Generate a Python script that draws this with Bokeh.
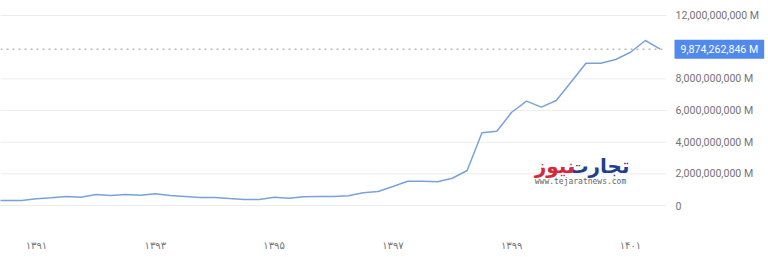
from bokeh.plotting import figure
from bokeh.models import FixedTicker, Label, Range1d
from bokeh.core.properties import value
from bokeh.embed import file_html
from bokeh.resources import INLINE

# quarterly periods (year/quarter) and values (in millions)
periods = ["1390/2", "1390/3", "1390/4",
           "1391/1", "1391/2", "1391/3", "1391/4",
           "1392/1", "1392/2", "1392/3", "1392/4",
           "1393/1", "1393/2", "1393/3", "1393/4",
           "1394/1", "1394/2", "1394/3", "1394/4",
           "1395/1", "1395/2", "1395/3", "1395/4",
           "1396/1", "1396/2", "1396/3", "1396/4",
           "1397/1", "1397/2", "1397/3", "1397/4",
           "1398/1", "1398/2", "1398/3", "1398/4",
           "1399/1", "1399/2", "1399/3", "1399/4",
           "1400/1", "1400/2", "1400/3", "1400/4",
           "1401/1", "1401/2", "1401/3"]
values = [300000000, 320000000, 320000000,
          420000000, 490000000, 570000000, 520000000,
          690000000, 630000000, 690000000, 650000000,
          740000000, 630000000, 570000000, 510000000,
          510000000, 440000000, 380000000, 380000000,
          520000000, 460000000, 550000000, 570000000,
          570000000, 610000000, 800000000, 880000000,
          1200000000, 1530000000, 1530000000, 1500000000,
          1720000000, 2210000000, 4590000000, 4690000000,
          5890000000, 6590000000, 6210000000, 6630000000,
          7800000000, 8990000000, 8990000000, 9220000000,
          9680000000, 10420000000, 9874262846]
x_ticks = [1391, 1393, 1395, 1397, 1399, 1401]
x_tick_labels = ["۱۳۹۱", "۱۳۹۳", "۱۳۹۵", "۱۳۹۷", "۱۳۹۹", "۱۴۰۱"]
y_ticks = [0, 2000000000, 4000000000, 6000000000, 8000000000, 12000000000]
y_tick_labels = ["0", "2,000,000,000 M", "4,000,000,000 M", "6,000,000,000 M",
                 "8,000,000,000 M", "12,000,000,000 M"]

t = [int(s.split("/")[0]) + (int(s.split("/")[1]) - 1) / 4 for s in periods]

# layout (pixels per year on a 768-wide frame)
X0 = 1390.394
PPY = 59.4
X1 = X0 + 768 / PPY
GRID_END = X0 + 666 / PPY
LABEL_X = X0 + 675 / PPY
BADGE_X = X0 + 674 / PPY

p = figure(width=768, height=257, output_backend="svg", toolbar_location=None,
           x_range=Range1d(X0, X1),
           y_range=Range1d(-1.263e9, 12.632e9),
           y_axis_location=None,
           min_border_left=0, min_border_right=0,
           min_border_top=5, min_border_bottom=32)
p.outline_line_color = None
p.background_fill_color = "white"
p.border_fill_color = "white"
p.xgrid.grid_line_color = None
p.ygrid.grid_line_color = None

# horizontal grid lines (end before the label column)
n = len(y_ticks)
p.segment(x0=[X0] * n, y0=y_ticks, x1=[GRID_END] * n, y1=y_ticks,
          line_color="#ececec", line_width=1)

# right-hand value labels
p.text(x=[LABEL_X] * n, y=y_ticks, text=y_tick_labels,
       text_font=value("Roboto"), text_font_size="10.6px",
       text_color="#757575", text_baseline="middle", text_align="left")

# series line
p.line(t, values, line_color="#7aa2da", line_width=1.5)

# dotted current-value line
p.segment(x0=[X0], y0=[values[-1]], x1=[GRID_END], y1=[values[-1]],
          line_color="#9a9a9a", line_dash="dotted", line_width=1)

# x axis
xa = p.xaxis[0]
xa.ticker = FixedTicker(ticks=x_ticks)
xa.major_label_overrides = {k: v for k, v in zip(x_ticks, x_tick_labels)}
xa.axis_line_color = None
xa.major_tick_line_color = None
xa.minor_tick_line_color = None
xa.major_label_text_color = "#757575"
xa.major_label_text_font = "DejaVu Sans"
xa.major_label_text_font_size = "10px"
xa.major_label_standoff = 8

# current value badge
p.add_layout(Label(x=BADGE_X, y=values[-1],
                   text=f"{values[-1]:,} M", text_color="white",
                   text_font="Roboto", text_font_size="10.6px",
                   text_baseline="middle", text_align="left",
                   background_fill_color="#5189ec", padding=dict(x=6, y=3)))

# watermark
p.add_layout(Label(x=629, y=60, x_units="screen", y_units="screen",
                   text="تجارت", text_color="#1f3f8f", text_font="DejaVu Sans",
                   text_font_style="bold", text_font_size="20px",
                   text_align="right", text_baseline="middle"))
p.add_layout(Label(x=574, y=60, x_units="screen", y_units="screen",
                   text="نیوز", text_color="#d5283a", text_font="DejaVu Sans",
                   text_font_style="bold", text_font_size="20px",
                   text_align="right", text_baseline="middle"))
p.add_layout(Label(x=580, y=44, x_units="screen", y_units="screen",
                   text="www.tejaratnews.com", text_color="#666666",
                   text_font="DejaVu Sans Mono", text_font_size="8px",
                   text_align="center", text_baseline="middle"))

open("out.html", "w").write(file_html(p, INLINE))
